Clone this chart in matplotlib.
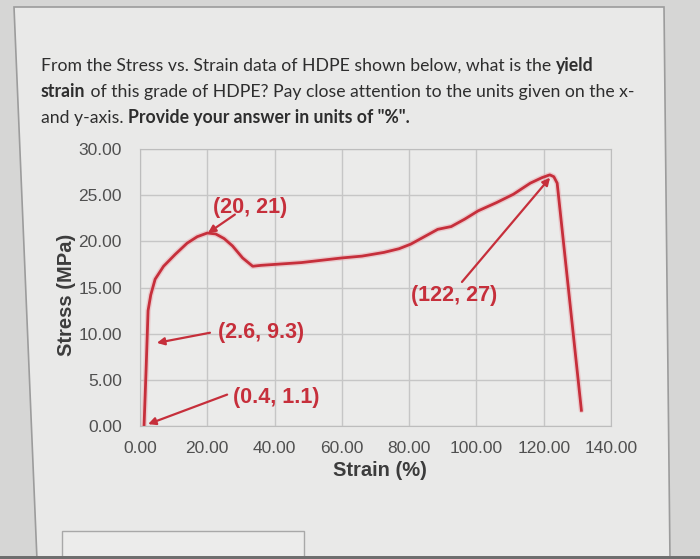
import matplotlib
matplotlib.use("Agg")
import matplotlib.pyplot as plt
from matplotlib.patches import Polygon, Rectangle

# stress-strain curve
strain = [1.2, 1.8, 2.4, 3.2, 4.5, 7.0, 10.5, 14.0, 17.0, 20.0, 22.5, 25.0, 27.5,
          30.5, 33.5, 36.0, 40.0, 48.0, 60.0, 66.0, 72.5, 77.0, 80.5, 84.5, 88.5,
          92.5, 96.5, 100.5, 106.0, 111.0, 116.0, 119.5, 121.8, 123.0, 124.0, 131.2]
stress = [0.0, 6.0, 12.5, 14.2, 15.9, 17.3, 18.6, 19.8, 20.5, 20.9, 20.8, 20.3, 19.5,
          18.2, 17.3, 17.4, 17.5, 17.7, 18.2, 18.4, 18.8, 19.2, 19.7, 20.5, 21.3,
          21.6, 22.4, 23.3, 24.2, 25.1, 26.3, 26.9, 27.2, 27.0, 26.3, 1.7]

x_ticks = [0, 20, 40, 60, 80, 100, 120, 140]
y_ticks = [0, 5, 10, 15, 20, 25, 30]

callout_labels = ["(20, 21)", "(2.6, 9.3)", "(0.4, 1.1)", "(122, 27)"]
callout_points = [(20.2, 20.9), (5.0, 9.0), (2.4, 0.2), (121.9, 26.9)]

question = [
    [("From the Stress vs. Strain data of HDPE shown below, what is the ", "normal"),
     ("yield", "bold")],
    [("strain", "bold"),
     (" of this grade of HDPE? Pay close attention to the units given on the x-", "normal")],
    [("and y-axis. ", "normal"), ('Provide your answer in units of "%".', "bold")],
]

RED = "#c62f3b"
W, H = 700, 559


def px(x, y):
    return x / W, 1 - y / H


fig = plt.figure(figsize=(7, 5.59), dpi=100)
fig.patch.set_facecolor("#d6d6d5")

# the page panel in the photo (slightly skewed)
panel = Polygon([px(14, 7), px(664, 7), px(670, 560), px(37, 560)], closed=True,
                transform=fig.transFigure, fc="#e9e9e8", ec="#9c9c9c", lw=1.2, zorder=-2)
fig.patches.append(panel)
answer_box = Rectangle(px(62, 560), (304 - 62) / W, (560 - 531) / H,
                       transform=fig.transFigure, fc="#ececeb", ec="#a8a8a8", lw=1,
                       zorder=-1)
fig.patches.append(answer_box)
fig.patches.append(Rectangle((0, 0), 1, 3 / H, transform=fig.transFigure,
                             fc="#6e6e6e", ec="none", zorder=-1))

# question text, with bold runs placed one after another
renderer = fig.canvas.get_renderer()
fs = 12.7


def run_width(s, weight):
    t = fig.text(0, 0, s, fontsize=fs, family="Lato", weight=weight)
    w = t.get_window_extent(renderer).width
    t.remove()
    return w


def advance(s, weight):
    # width including spaces and side bearings
    return run_width("|" + s + "|", weight) - run_width("||", weight)


baselines = [71, 97, 123]
for line, base in zip(question, baselines):
    x = 41.0
    for s, weight in line:
        fig.text(x / W, 1 - base / H, s, fontsize=fs, family="Lato", weight=weight,
                 color="#2e2e2e", va="baseline", ha="left")
        x += advance(s, weight)

# chart
ax = fig.add_axes([140 / W, 1 - 426 / H, 471 / W, 277 / H])
ax.set_facecolor("#ebebea")
ax.set_xlim(0, 140)
ax.set_ylim(0, 30)
ax.set_xticks(x_ticks)
ax.set_xticklabels([f"{v:.2f}" for v in x_ticks])
ax.set_yticks(y_ticks)
ax.set_yticklabels([f"{v:.2f}" for v in y_ticks])
ax.grid(color="#c6c6c6", lw=1)
ax.set_axisbelow(True)
for sp in ax.spines.values():
    sp.set_color("#bdbdbd")
ax.tick_params(axis="both", length=0, labelsize=12.5, labelcolor="#505050")
ax.tick_params(axis="y", pad=13)
ax.tick_params(axis="x", pad=11)
for lab in ax.get_xticklabels() + ax.get_yticklabels():
    lab.set_family("Liberation Sans")

ax.plot(strain, stress, color="#eaa3aa", lw=4.0, alpha=0.45, solid_capstyle="round")
ax.plot(strain, stress, color=RED, lw=2.0, solid_joinstyle="round")

ax.set_xlabel("Strain (%)", fontsize=14.5, weight="bold", color="#3c3c3c",
              family="Liberation Sans")
ax.xaxis.set_label_coords(0.51, -0.126)
ax.set_ylabel("Stress (MPa)", fontsize=14.5, weight="bold", color="#3c3c3c",
              family="Liberation Sans")
ax.yaxis.set_label_coords(-0.136, 0.473)

# callouts: arrow tail and label centre, in data units
tails = [(28.2, 22.9), (20.8, 10.1), (25.9, 3.4), (95.7, 15.6)]
label_pos = [(32.7, 23.7), (36.0, 10.1), (40.4, 3.1), (93.3, 14.1)]
for label, head, tail, pos in zip(callout_labels, callout_points, tails, label_pos):
    ax.annotate("", xy=head, xytext=tail,
                arrowprops=dict(arrowstyle="-|>", color=RED, lw=1.6,
                                mutation_scale=11, shrinkA=0, shrinkB=0))
    ax.text(pos[0], pos[1], label, color=RED, fontsize=15.5, weight="bold",
            family="Liberation Sans", ha="center", va="center")

fig.savefig("out.png", dpi=100, facecolor=fig.get_facecolor())
